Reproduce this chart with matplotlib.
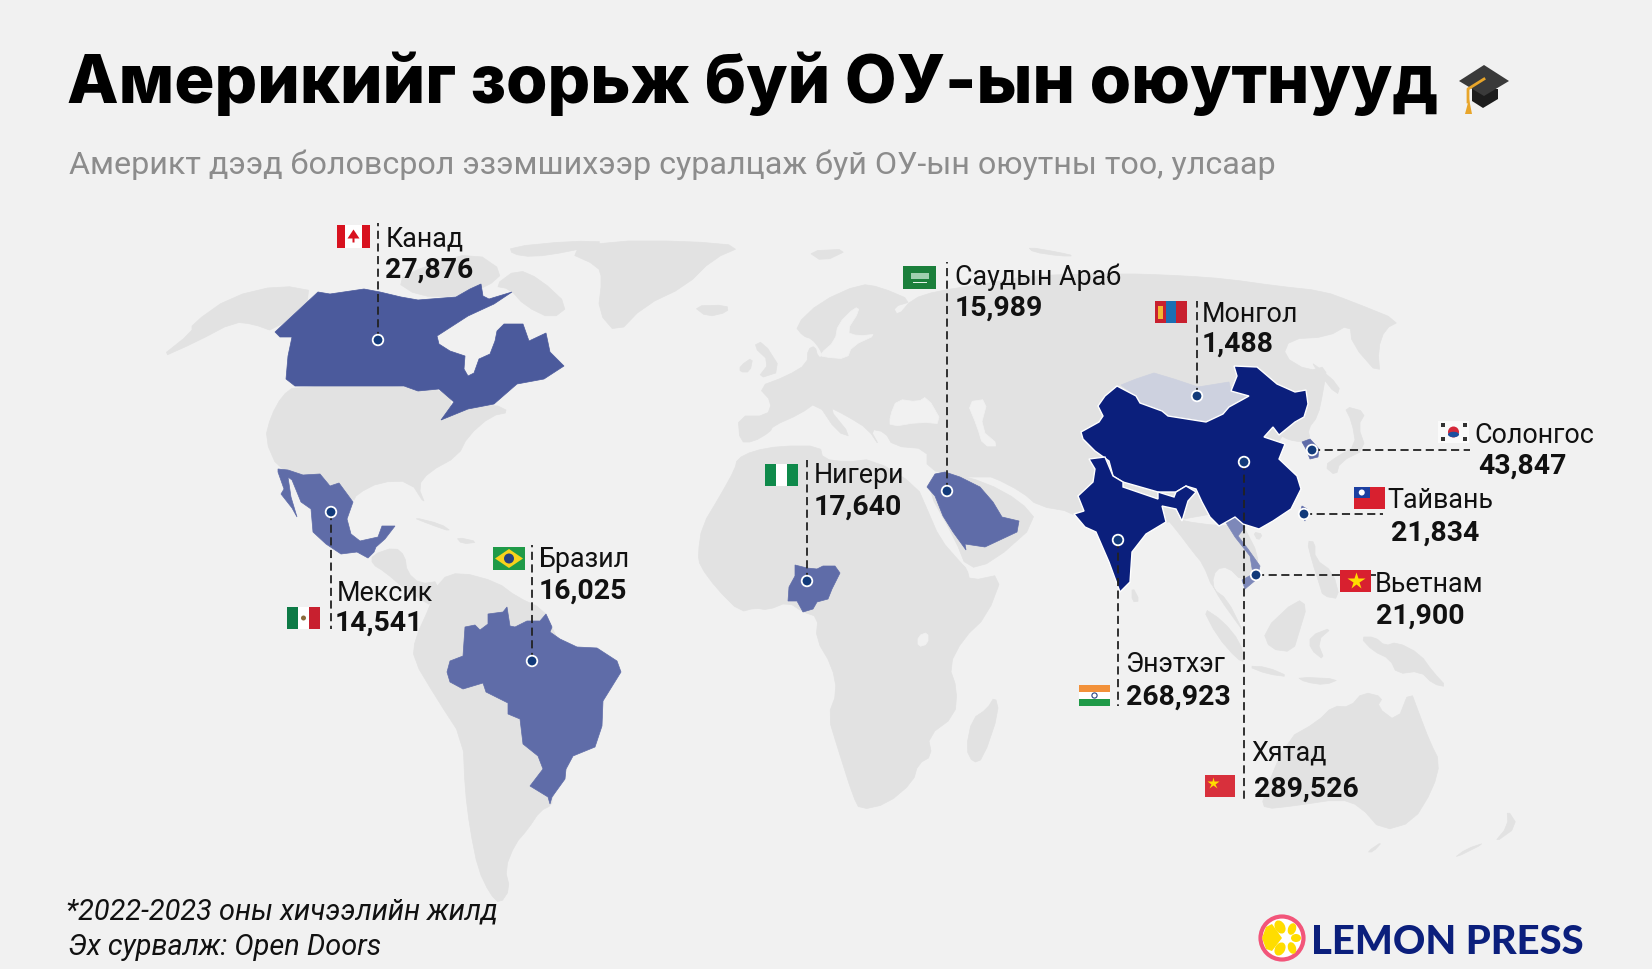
import matplotlib
matplotlib.use('Agg')
import matplotlib.pyplot as plt
from matplotlib.patches import Polygon, Circle, Rectangle, Ellipse

plt.rcParams['font.family'] = ['Roboto', 'DejaVu Sans']

BG = '#f1f1f1'
LAND = '#e2e2e2'
NAVY = '#0b1f7c'

names = ['Канад', 'Саудын Араб', 'Монгол', 'Солонгос', 'Тайвань', 'Вьетнам',
         'Нигери', 'Бразил', 'Мексик', 'Энэтхэг', 'Хятад']
students = [27876, 15989, 1488, 43847, 21834, 21900,
            17640, 16025, 14541, 268923, 289526]

# outlines, in picture pixels
alaska = [(158,360),(192,333),(192,325),(230,298),(280,286),(318,293),(275,333),(253,325),(234,323),(196,343)]
arctic1 = [(395,282),(425,267),(475,253),(504,273),(487,288),(470,290),(456,298),(418,297)]
baffin = [(494,287),(517,270),(540,280),(569,307),(552,320),(525,307),(510,290)]
ellesmere = [(510,248),(571,242),(609,243),(567,253),(533,258),(512,255)]
greenland = [(567,253),(598,267),(602,280),(598,313),(617,335),(644,307),(686,287),(713,260),(743,247),(686,242),(609,242)]
iceland = [(693,307),(727,306),(728,313),(707,318)]
usa = [(295,387),(404,387),(418,392),(439,390),(454,403),(441,421),(468,410),(494,405),(510,413),(491,417),(468,437),
       (458,457),(429,473),(418,487),(426,507),(410,482),(380,483),(357,495),(353,503),(339,484),(330,487),(320,475),
       (303,476),(278,470),(265,440),(271,417),(282,397)]
central_am = [(372,556),(395,548),(405,557),(407,573),(420,585),(440,582),(432,607),(420,600),(405,590),(385,573),(372,565)]
cuba = [(412,518),(441,525),(452,533),(429,525)]
hispaniola = [(456,538),(479,543),(462,545)]
south_am = [(440,580),(460,573),(497,583),(517,598),(543,610),(552,628),(566,660),(600,700),(573,757),(552,798),(552,806),
            (540,812),(528,830),(515,845),(505,870),(510,890),(500,905),(490,895),(478,870),(470,830),(465,790),(463,740),
            (437,700),(413,660),(415,640),(430,607)]
africa = [(737,460),(753,452),(780,447),(820,447),(823,460),(847,463),(873,460),(917,487),(927,510),(940,540),(960,563),
          (967,570),(970,582),(1003,575),(987,617),(963,640),(949,667),(957,690),(955,717),(928,737),(932,757),(918,765),
          (913,783),(887,805),(860,811),(853,797),(838,750),(828,717),(837,693),(832,667),(816,640),(818,618),(803,613),
          (788,603),(768,611),(755,609),(740,613),(717,590),(700,567),(698,555),(702,527),(720,497),(735,470)]
madagascar = [(995,697),(999,713),(983,760),(973,764),(966,750),(972,720),(987,710)]
eurasia = [(738,417),(767,417),(772,403),(758,388),(787,377),(807,365),(808,350),(815,347),(818,358),(823,358),(820,350),
           (812,340),(803,337),(795,327),(820,303),(860,285),(880,288),(913,302),(893,308),(898,317),(912,300),(937,292),
           (985,285),(1027,277),(1080,275),(1120,275),(1140,275),(1187,277),(1227,280),(1277,287),(1323,292),(1353,303),
           (1400,322),(1385,330),(1378,350),(1380,377),(1352,345),(1350,325),(1327,338),(1290,340),(1283,357),(1308,372),
           (1327,367),(1323,393),(1318,417),(1308,430),(1310,440),(1302,443),(1289,441),(1280,436),(1270,470),(1240,510),
           (1166,523),(1140,530),(1085,528),(1073,513),(1038,507),(1022,493),(993,478),(985,478),(960,478),(927,470),
           (927,450),(893,447),(885,433),(870,430),(880,448),(868,430),(847,417),(827,407),(852,438),(837,433),(817,403),
           (800,415),(773,427),(770,433),(753,443),(740,443)]
arabia = [(935,475),(945,473),(985,483),(1020,502),(1038,523),(993,563),(967,570),(955,540),(927,490)]
indochina = [(1163,515),(1178,533),(1193,553),(1203,565),(1213,590),(1227,600),(1243,632),(1238,625),(1220,600),(1212,585),
             (1216,570),(1228,568),(1242,582),(1257,575),(1258,555),(1245,530),(1243,525),(1219,527),(1182,522)]
hainan = [(1253,533),(1263,535),(1258,542)]
black_sea = [(890,417),(897,400),(918,403),(927,397),(943,425),(920,423),(890,428)]
caspian = [(967,403),(988,400),(980,430),(1000,447),(983,447),(977,427)]
baltic = [(823,358),(847,360),(852,347),(878,335),(858,337),(846,333),(860,311),(855,308),(838,325),(835,342),(820,355)]
victoria = [(918,637),(928,633),(928,645),(918,648)]
uk = [(753,347),(763,342),(782,372),(757,380),(770,363)]
ireland = [(740,367),(753,358),(750,373),(740,373)]
svalbard = [(807,252),(850,250),(823,263)]
novaya = [(1028,248),(1057,253),(1075,257),(1060,257),(1033,253)]
sri_lanka = [(1132,587),(1140,602),(1132,603)]
sakhalin = [(1312,363),(1340,387),(1337,397),(1316,370)]
japan = [(1324,467),(1338,457),(1356,447),(1352,423),(1344,407),(1366,413),(1358,427),(1366,450),(1340,463),(1336,477)]
philippines = [(1307,542),(1315,543),(1315,560),(1333,573),(1340,600),(1323,597),(1320,587),(1312,562)]
borneo = [(1263,632),(1297,600),(1307,607),(1300,630),(1293,653),(1270,650)]
sumatra = [(1202,608),(1223,622),(1240,643),(1245,663),(1237,660),(1217,637)]
java = [(1247,667),(1267,668),(1290,678),(1267,675)]
sulawesi = [(1310,637),(1333,628),(1317,642),(1325,662),(1310,650)]
timor = [(1297,678),(1340,680),(1325,686),(1305,683)]
new_guinea = [(1360,638),(1375,638),(1385,647),(1397,643),(1420,655),(1433,673),(1447,688),(1433,685),(1420,672),(1397,675),(1390,660),(1373,652)]
australia = [(1265,810),(1262,800),(1287,740),(1317,723),(1333,707),(1350,708),(1363,693),(1383,698),(1377,708),(1397,723),
             (1410,690),(1420,717),(1430,743),(1440,763),(1433,790),(1413,823),(1382,832),(1360,807),(1340,800),(1293,807)]
tasmania = [(1367,853),(1383,842),(1373,853)]
nz_north = [(1507,810),(1518,827),(1493,845),(1508,827)]
nz_south = [(1487,843),(1453,860),(1466,850)]

canada = [(275,333),(318,293),(330,295),(364,290),(380,293),(401,298),(418,301),(456,298),(470,290),(481,285),(483,297),(489,300),
          (512,293),(494,305),(468,317),(437,337),(439,345),(450,352),(465,357),(464,370),(468,377),(474,374),(479,360),(490,355),
          (495,342),(497,332),(504,325),(523,325),(529,342),(546,334),(550,353),(564,367),(544,380),(517,385),(494,405),(468,410),
          (441,421),(454,403),(439,390),(418,392),(404,387),(295,387),(286,380),(288,357),(292,338),(280,338)]
mexico = [(278,470),(288,471),(303,476),(320,475),(330,487),(339,484),(353,503),(347,520),(351,535),(360,542),(378,538),(382,527),
          (395,527),(385,540),(376,548),(374,553),(368,559),(357,553),(341,555),(326,545),(313,533),(311,510),(301,503),(292,481),
          (288,478),(291,498),(297,518),(292,509),(281,495),(284,490),(278,473)]
brazil = [(447,673),(450,662),(463,657),(465,628),(475,626),(480,631),(488,625),(488,615),(503,613),(507,608),(510,627),(515,628),
          (527,622),(540,622),(546,615),(552,628),(550,633),(560,640),(577,648),(597,649),(617,662),(621,673),(603,702),(602,727),
          (595,748),(573,757),(566,770),(565,780),(552,798),(550,805),(548,798),(530,787),(543,770),(538,757),(523,745),(520,720),
          (508,715),(508,704),(486,693),(483,684),(463,690),(450,683)]
saudi = [(927,488),(935,475),(945,473),(960,478),(980,488),(993,503),(1002,518),(1019,522),(1017,533),(985,548),(965,545),(966,551),
         (953,533),(943,517),(935,497)]
nigeria = [(795,566),(807,569),(817,570),(823,567),(835,567),(840,574),(832,590),(828,600),(817,603),(813,610),(803,613),(797,602),
           (788,602),(789,588),(795,577)]
mongolia = [(1121,386),(1136,380),(1154,374),(1174,380),(1198,388),(1229,383),(1231,392),(1249,397),(1229,408),(1223,415),(1206,423),
            (1168,417),(1140,404),(1136,397)]
china = [(1081,433),(1099,423),(1103,417),(1098,407),(1105,397),(1117,387),(1136,397),(1140,404),(1162,412),(1168,417),(1206,423),
         (1223,415),(1229,408),(1249,397),(1231,392),(1237,377),(1234,367),(1257,368),(1277,385),(1295,393),(1306,391),(1308,405),
         (1304,418),(1295,423),(1279,436),(1273,428),(1264,438),(1285,445),(1279,460),(1297,477),(1301,490),(1291,510),(1273,522),
         (1259,530),(1243,525),(1235,518),(1219,527),(1210,518),(1202,503),(1196,490),(1186,487),(1176,493),(1158,493),(1123,483),
         (1113,477),(1109,462),(1095,452),(1083,440)]
india = [(1089,460),(1105,458),(1113,477),(1123,483),(1123,488),(1158,500),(1158,493),(1174,498),(1176,493),(1186,487),(1196,493),
         (1188,502),(1182,522),(1176,510),(1162,507),(1166,523),(1146,535),(1132,553),(1130,583),(1120,593),(1109,563),(1096,533),
         (1085,528),(1074,515),(1084,512),(1078,497),(1093,483),(1095,470)]
korea = [(1302,443),(1310,440),(1319,450),(1318,458),(1310,460),(1306,450)]
taiwan = [(1302,507),(1307,510),(1305,522),(1300,514)]
vietnam = [(1225,522),(1238,518),(1245,528),(1238,537),(1248,550),(1260,567),(1257,580),(1245,590),(1242,581),(1253,575),(1250,557),
           (1235,538)]

grey_land = [alaska, arctic1, baffin, ellesmere, greenland, iceland, usa, central_am, cuba, hispaniola, south_am, africa,
             madagascar, eurasia, arabia, indochina, hainan, uk, ireland, svalbard, novaya, sri_lanka, sakhalin, japan, philippines,
             borneo, sumatra, java, sulawesi, timor, new_guinea, australia, tasmania, nz_north, nz_south]
seas = [black_sea, caspian, baltic, victoria]


def soften(pts):
    # one pass of corner cutting so the hand traced coasts look less angular
    out = []
    for i, (x0, y0) in enumerate(pts):
        x1, y1 = pts[(i + 1) % len(pts)]
        out.append((0.75 * x0 + 0.25 * x1, 0.75 * y0 + 0.25 * y1))
        out.append((0.25 * x0 + 0.75 * x1, 0.25 * y0 + 0.75 * y1))
    return out


fig = plt.figure(figsize=(16.52, 9.70), dpi=100, facecolor=BG)
ax = fig.add_axes([0, 0, 1, 1])
ax.set_xlim(0, 1652)
ax.set_ylim(970, 0)
ax.axis('off')

for shape in grey_land:
    ax.add_patch(Polygon(soften(shape), closed=True, fc=LAND, ec=LAND, lw=0.5))
for shape in seas:
    ax.add_patch(Polygon(soften(shape), closed=True, fc=BG, ec=BG, lw=0.5))

highlighted = [(canada, '#4b5a9c'), (mexico, '#5f6ca8'), (brazil, '#5f6ca8'), (saudi, '#5f6ca8'), (nigeria, '#5f6ca8'),
               (mongolia, '#cdd1df'), (korea, '#5f6ca8'), (taiwan, '#5f6ca8'), (vietnam, '#7d88b9')]
for shape, col in highlighted:
    ax.add_patch(Polygon(shape, closed=True, fc=col, ec=col, lw=0.5))
for shape in [china, india]:
    ax.add_patch(Polygon(shape, closed=True, fc=NAVY, ec='white', lw=1.0))

# leader lines: from dot to the label side
dots = [(378,341),(947,492),(1197,397),(1312,451),(1304,515),(1256,576),(807,582),(532,662),(331,513),(1118,541),(1244,463)]
ends = [(378,224),(947,263),(1197,302),(1470,451),(1383,515),(1376,576),(807,461),(532,546),(331,630),(1118,707),(1244,803)]
for (x0, y0), (x1, y1) in zip(dots, ends):
    ax.plot([x0, x1], [y0, y1], color='#222222', lw=1.3, dashes=(4.5, 2.5), zorder=4)
for x, y in dots:
    ax.add_patch(Circle((x, y), 5.3, fc='#123a7a', ec='white', lw=1.3, zorder=5))


def stripes(x, y, w, h, cols, vertical=False):
    n = len(cols)
    for i, c in enumerate(cols):
        if vertical:
            ax.add_patch(Rectangle((x + i * w / n, y), w / n, h, fc=c, ec='none', zorder=6))
        else:
            ax.add_patch(Rectangle((x, y + i * h / n), w, h / n, fc=c, ec='none', zorder=6))


def flag(kind, x, y, w, h):
    cx, cy = x + w / 2, y + h / 2
    if kind == 'ca':
        stripes(x, y, w, h, ['#d8121f', '#ffffff', '#ffffff', '#d8121f'], vertical=True)
        ax.add_patch(Polygon([(cx, cy - 7), (cx + 6, cy + 2), (cx + 1, cy + 2), (cx + 1, cy + 6), (cx - 1, cy + 6),
                              (cx - 1, cy + 2), (cx - 6, cy + 2)], fc='#d8121f', ec='none', zorder=7))
    elif kind == 'sa':
        stripes(x, y, w, h, ['#1b7f3b'])
        ax.add_patch(Rectangle((cx - 9, cy - 5), 18, 6, fc='#9fcfae', ec='none', zorder=7))
        ax.add_patch(Rectangle((cx - 7, cy + 4), 14, 1.2, fc='#e4f2e8', ec='none', zorder=7))
    elif kind == 'mn':
        stripes(x, y, w, h, ['#c8202f', '#1a6fb4', '#c8202f'], vertical=True)
        ax.add_patch(Rectangle((x + 3, y + 5), 4.5, h - 9, fc='#f2b632', ec='none', zorder=7))
    elif kind == 'kr':
        stripes(x, y, w, h, ['#fafafa'])
        ax.add_patch(Circle((cx, cy), 5.5, fc='#d5283a', ec='none', zorder=7))
        ax.add_patch(Ellipse((cx, cy + 2.5), 11, 5.5, fc='#1c4fa0', ec='none', zorder=8))
        for dx in (-11, 11):
            for dy in (-7, 7):
                ax.add_patch(Rectangle((cx + dx - 2, cy + dy - 2), 4, 4, fc='#333333', ec='none', zorder=7))
    elif kind == 'tw':
        stripes(x, y, w, h, ['#d8202f'])
        ax.add_patch(Rectangle((x, y), w / 2, h / 2, fc='#1c3fa0', ec='none', zorder=7))
        ax.add_patch(Circle((x + w / 4, y + h / 4), 3, fc='white', ec='none', zorder=8))
    elif kind == 'vn':
        stripes(x, y, w, h, ['#d8202f'])
        ax.plot([cx], [cy], marker='*', ms=13, color='#ffdd00', mec='none', zorder=7)
    elif kind == 'ng':
        stripes(x, y, w, h, ['#0f8a4b', '#ffffff', '#0f8a4b'], vertical=True)
    elif kind == 'br':
        stripes(x, y, w, h, ['#1f9a48'])
        ax.add_patch(Polygon([(x + 2, cy), (cx, y + 2), (x + w - 2, cy), (cx, y + h - 2)], fc='#f8d21c', ec='none', zorder=7))
        ax.add_patch(Circle((cx, cy), 5, fc='#27407f', ec='none', zorder=8))
    elif kind == 'mx':
        stripes(x, y, w, h, ['#0d7a46', '#ffffff', '#c8202f'], vertical=True)
        ax.add_patch(Circle((cx, cy), 2.5, fc='#8a6a3a', ec='none', zorder=7))
    elif kind == 'in':
        stripes(x, y, w, h, ['#f2913a', '#ffffff', '#1f9a48'])
        ax.add_patch(Circle((cx, cy), 2.6, fc='white', ec='#27407f', lw=0.8, zorder=7))
    elif kind == 'cn':
        stripes(x, y, w, h, ['#d8303c'])
        ax.plot([x + 8], [y + 8], marker='*', ms=9, color='#ffdd00', mec='none', zorder=7)


flag_kinds = ['ca', 'sa', 'mn', 'kr', 'tw', 'vn', 'ng', 'br', 'mx', 'in', 'cn']
flag_boxes = [(337,226,33,23),(903,267,33,23),(1155,302,32,22),(1438,422,31,22),(1354,488,31,22),(1340,571,31,22),
              (765,465,33,22),(493,548,32,23),(287,608,33,22),(1079,686,31,21),(1205,776,30,22)]
for kind, box in zip(flag_kinds, flag_boxes):
    flag(kind, *box)

name_pos = [(386,239),(955,277),(1202,315),(1474,436),(1387,501),(1375,585),(814,476),(539,560),(337,594),(1125,665),(1251,753)]
value_pos = [(385,270),(955,308),(1202,344),(1478,466),(1391,533),(1376,616),(814,507),(539,591),(335,623),(1126,697),(1254,789)]
for name, value, np_, vp in zip(names, students, name_pos, value_pos):
    ax.text(np_[0], np_[1], name, fontsize=19.4, color='#111111', va='center', ha='left', zorder=9)
    ax.text(vp[0], vp[1], f'{value:,}', fontsize=20.4, fontweight='bold', color='#111111', va='center', ha='left', zorder=9)

ax.text(67, 85, 'Америкийг зорьж буй ОУ-ын оюутнууд', fontsize=48.3, fontweight='heavy', family=['Inter', 'DejaVu Sans'],
        color='black', va='center', ha='left')
ax.text(69, 165, 'Америкт дээд боловсрол эзэмшихээр суралцаж буй ОУ-ын оюутны тоо, улсаар', fontsize=23.2, color='#8c8c8c',
        va='center', ha='left')
ax.text(66, 912, '*2022-2023 оны хичээлийн жилд', fontsize=20.8, style='italic', color='#111111', va='center', ha='left')
ax.text(68, 947, 'Эх сурвалж: Open Doors', fontsize=20.8, style='italic', color='#111111', va='center', ha='left')

# graduation cap
ax.add_patch(Polygon([(1472,90),(1472,102),(1483,109),(1498,100),(1498,90)], fc='#1c1c1c', ec='none', zorder=3))
ax.add_patch(Polygon([(1459,82),(1484,66),(1509,82),(1484,97)], fc='#3a3a3a', ec='none', zorder=4))
ax.plot([1484, 1468, 1468], [80, 90, 103], color='#e8a52a', lw=2, zorder=5)
ax.add_patch(Polygon([(1465,115),(1472,115),(1469,100)], fc='#e8a52a', ec='none', zorder=5))

# logo
ax.add_patch(Circle((1282, 939), 21.5, fc='white', ec='#f2557a', lw=3))
for (px, py, wd, ht, ang) in [(1280,928,10,14,-30),(1292,930,8,12,20),(1296,939,10,8,0),(1292,949,8,12,-20),(1280,950,10,14,30)]:
    ax.add_patch(Ellipse((px, py), wd, ht, angle=ang, fc='#ffdd00', ec='none'))
ax.add_patch(Polygon([(1266,928),(1272,925),(1282,939),(1272,952),(1266,950),(1262,939)], fc='#ffdd00', ec='none'))
ax.text(1311, 939, 'LEMON PRESS', fontsize=28.8, fontweight='black', family=['Lato', 'DejaVu Sans'], color=NAVY, va='center_baseline', ha='left')

fig.savefig('out.png', dpi=100, facecolor=BG)
